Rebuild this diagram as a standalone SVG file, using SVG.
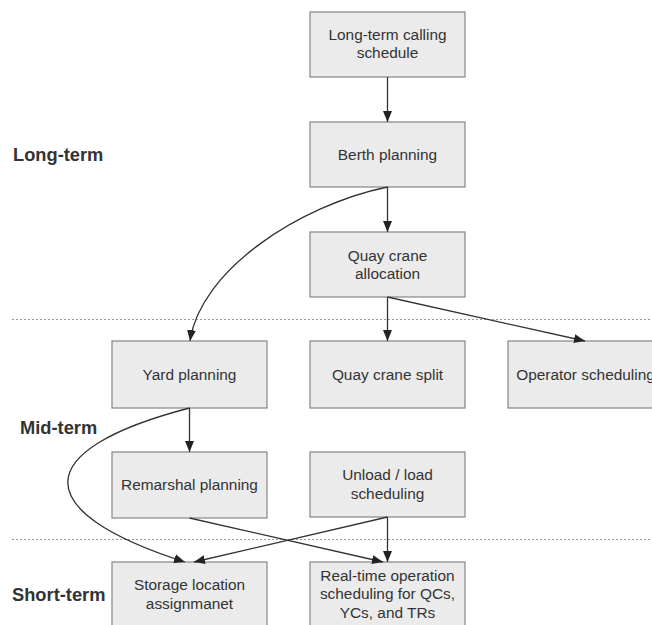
<svg xmlns="http://www.w3.org/2000/svg" width="652" height="625" viewBox="0 0 652 625">
<defs>
<marker id="ah" markerUnits="userSpaceOnUse" markerWidth="12" markerHeight="10" refX="11" refY="5" orient="auto">
<path d="M0,0.5 L11,5 L0,9.5 Z" fill="#222"/>
</marker>
<style>
.box{fill:#ebebeb;stroke:#858585;stroke-width:1.2}
.t{font-family:"Liberation Sans",Arial,sans-serif;font-size:15.4px;fill:#333;text-anchor:middle}
.lbl{font-family:"Liberation Sans",Arial,sans-serif;font-size:18.3px;font-weight:bold;fill:#333}
.c{fill:none;stroke:#333;stroke-width:1.3;marker-end:url(#ah)}
.dash{stroke:#999;stroke-width:1;stroke-dasharray:2,2}
</style>
</defs>
<rect width="652" height="625" fill="#fff"/>
<g id="separators">
<line class="dash" x1="12" y1="319.5" x2="652" y2="319.5"/>
<line class="dash" x1="12" y1="539.5" x2="652" y2="539.5"/>
</g>
<g id="labels">
<text class="lbl" x="13" y="161">Long-term</text>
<text class="lbl" x="20" y="434">Mid-term</text>
<text class="lbl" x="12" y="601">Short-term</text>
</g>
<g id="n-calling"><rect class="box" x="310" y="12" width="155" height="65"/><text class="t" x="387.5" y="40">Long-term calling</text><text class="t" x="387.5" y="58">schedule</text></g>
<g id="n-berth"><rect class="box" x="310" y="122" width="155" height="65"/><text class="t" x="387.5" y="160">Berth planning</text></g>
<g id="n-qca"><rect class="box" x="310" y="232" width="155" height="65"/><text class="t" x="387.5" y="261">Quay crane</text><text class="t" x="387.5" y="279">allocation</text></g>
<g id="n-yard"><rect class="box" x="112" y="341" width="155" height="67"/><text class="t" x="189.5" y="380">Yard planning</text></g>
<g id="n-qcs"><rect class="box" x="310" y="341" width="155" height="67"/><text class="t" x="387.5" y="380">Quay crane split</text></g>
<g id="n-oper"><rect class="box" x="508" y="341" width="155" height="67"/><text class="t" x="585.5" y="380">Operator scheduling</text></g>
<g id="n-remarshal"><rect class="box" x="112" y="452" width="155" height="66"/><text class="t" x="189.5" y="490">Remarshal planning</text></g>
<g id="n-unload"><rect class="box" x="310" y="452" width="155" height="65"/><text class="t" x="387.5" y="480">Unload / load</text><text class="t" x="387.5" y="499">scheduling</text></g>
<g id="n-storage"><rect class="box" x="112" y="562" width="155" height="70"/><text class="t" x="189.5" y="590">Storage location</text><text class="t" x="189.5" y="609">assignmanet</text></g>
<g id="n-realtime"><rect class="box" x="310" y="562" width="155" height="70"/><text class="t" x="387.5" y="581">Real-time operation</text><text class="t" x="387.5" y="599">scheduling for QCs,</text><text class="t" x="387.5" y="618">YCs, and TRs</text></g>
<g id="connectors">
<path class="c" d="M387.5,77 L387.5,122"/>
<path class="c" d="M387.5,187 L387.5,232"/>
<path class="c" d="M387.5,187 C300,205 200,270 190,341"/>
<path class="c" d="M387.5,297 L387.5,341"/>
<path class="c" d="M387.5,297 L585,341"/>
<path class="c" d="M189.5,408 L189.5,452"/>
<path class="c" d="M189.5,408 C28,450 28,512 185,562"/>
<path class="c" d="M387.5,517 L387.5,562"/>
<path class="c" d="M387.5,517 L194,562"/>
<path class="c" d="M189.5,518 L383,562"/>
</g>
</svg>
